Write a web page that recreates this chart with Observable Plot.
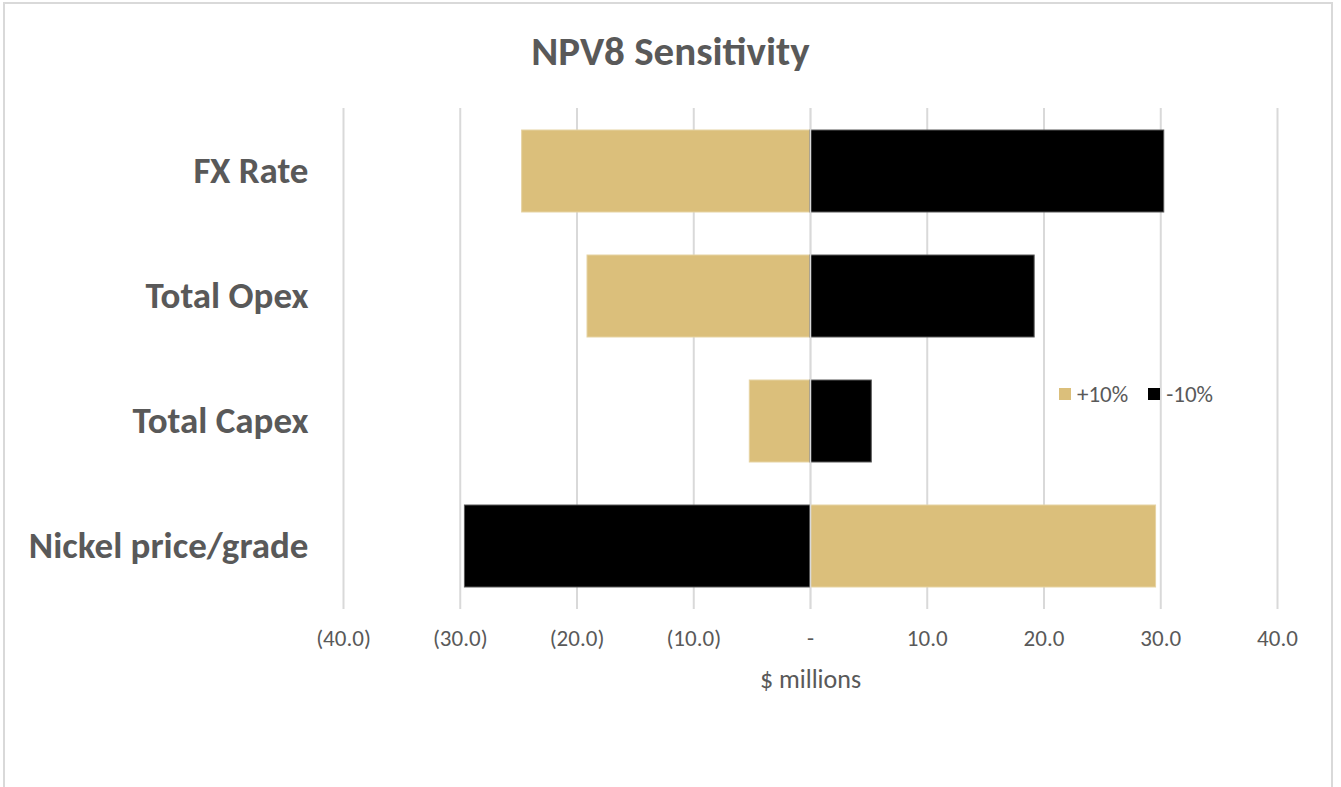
<!DOCTYPE html>
<html>
<head>
<meta charset="utf-8">
<script src="https://cdn.jsdelivr.net/npm/d3@7"></script>
<script src="https://cdn.jsdelivr.net/npm/@observablehq/plot@0.6"></script>
<style>
  html, body { margin: 0; padding: 0; background: #fff; }
  body { width: 1341px; height: 787px; position: relative; overflow: hidden;
         font-family: Carlito, Lato, "Open Sans", sans-serif; }
  .frame { position: absolute; left: 3px; top: 2px; width: 1330px; height: 820px;
           border: 2px solid #d9d9d9; box-sizing: border-box; }
  .title { position: absolute; left: 0; top: 26px; width: 1341px; text-align: center;
           font-size: 41px; line-height: 50px; font-weight: bold; color: #595959; }
  #chart { position: absolute; left: 0; top: 90px; }
  #chart svg { overflow: visible; }
  #chart g[aria-label="y-axis tick label"] text { font-weight: bold; font-size: 37px; }
  #chart g[aria-label="x-axis tick label"] text { font-size: 23px; }
  .legend { position: absolute; left: 1059px; top: 380px; display: flex; align-items: center;
            font-size: 23px; line-height: 28px; color: #595959; }
  .legend .sw { width: 12px; height: 12px; display: inline-block; margin-right: 6px; }
  .legend .item { display: flex; align-items: center; margin-right: 20px; }
</style>
</head>
<body>
<div class="frame"></div>
<div class="title">NPV8 Sensitivity</div>
<div id="chart"></div>
<div class="legend" id="legend"></div>
<script>
// Change in NPV8 ($ millions) for a ±10% move in each driver
const categories = ["FX Rate", "Total Opex", "Total Capex", "Nickel price/grade"];
const plus10 = [-24.7, -19.1, -5.2, 29.6];
const minus10 = [30.3, 19.2, 5.25, -29.6];
const scenarios = ["+10%", "-10%"];
const scenarioColors = ["#dbbf7b", "#000000"];
const scenarioStrokes = ["#e6d3a3", "#595959"];
const xTicks = [-40, -30, -20, -10, 0, 10, 20, 30, 40];

const rows = [];
categories.forEach((c, i) => {
  rows.push({category: c, scenario: scenarios[0], value: plus10[i]});
  rows.push({category: c, scenario: scenarios[1], value: minus10[i]});
});

// Accounting-style tick labels: (40.0), -, 10.0
const fmt = v => v === 0 ? "-" : v < 0 ? `(${Math.abs(v).toFixed(1)})` : v.toFixed(1);

const chart = Plot.plot({
  width: 1341,
  height: 697,
  marginLeft: 343,
  marginRight: 64,
  marginTop: 18,
  marginBottom: 178,
  style: {fontFamily: "Carlito, Lato, 'Open Sans', sans-serif", background: "transparent"},
  x: {domain: [-40, 40]},
  y: {domain: categories, paddingInner: 0.34, paddingOuter: 0.17},
  color: {domain: scenarios, range: scenarioColors},
  marks: [
    Plot.gridX(xTicks, {stroke: "#d9d9d9", strokeOpacity: 1, strokeWidth: 2}),
    Plot.barX(rows, {
      y: "category", x1: 0, x2: "value", fill: "scenario",
      stroke: d => scenarioStrokes[scenarios.indexOf(d.scenario)], strokeWidth: 1,
      inset: 0
    }),
    Plot.ruleX([0], {stroke: "#d9d9d9", strokeWidth: 1.5}),
    Plot.axisX(xTicks, {
      tickSize: 0, tickPadding: 20, tickFormat: fmt, fontSize: 23,
      color: "#595959", label: null
    }),
    Plot.axisY({
      tickSize: 0, tickPadding: 35, fontSize: 37, fontWeight: "bold",
      color: "#595959", label: null
    }),
    Plot.text(["$ millions"], {
      text: d => d, frameAnchor: "bottom", dy: 78, fontSize: 26, fill: "#595959"
    })
  ]
});
document.getElementById("chart").appendChild(chart);

// Legend for the two scenarios
const legend = document.getElementById("legend");
scenarios.forEach((s, i) => {
  const item = document.createElement("span");
  item.className = "item";
  item.innerHTML = `<span class="sw" style="background:${scenarioColors[i]}"></span>${s}`;
  legend.appendChild(item);
});
</script>
</body>
</html>
